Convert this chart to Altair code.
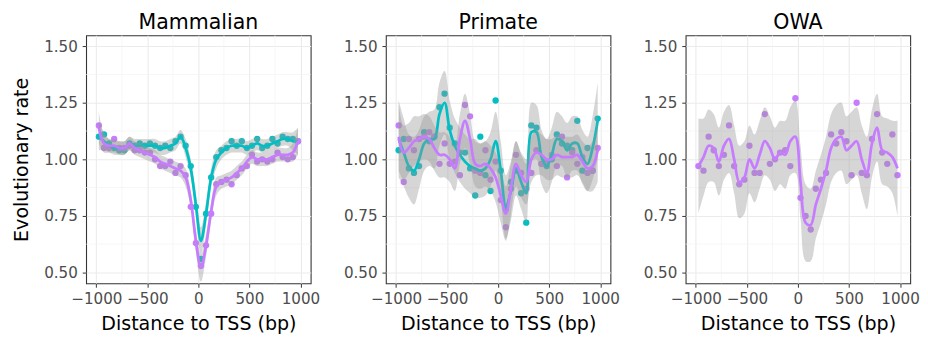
import altair as alt
import pandas as pd

# x positions (bin centres, bp)
X = [-975, -925, -875, -825, -775, -725, -675, -625, -575, -525,
     -475, -425, -375, -325, -275, -225, -175, -125, -75, -25,
     25, 75, 125, 175, 225, 275, 325, 375, 425, 475,
     525, 575, 625, 675, 725, 775, 825, 875, 925, 975]

PANELS = ["Mammalian", "Primate", "OWA"]
GROUPS = ["teal", "purple"]
COLORS = ["#00BFC4", "#C77CFF"]

# ---- Mammalian ----
mam_teal_pts = [1.10, 1.11, 1.07, 1.05, 1.04, 1.04, 1.07, 1.06, 1.07, 1.06,
                1.07, 1.06, 1.05, 1.06, 1.05, 1.08, 1.10, 1.06, 0.97, 0.79,
                0.56, 0.76, 0.92, 1.01, 1.04, 1.05, 1.08, 1.06, 1.08, 1.05,
                1.06, 1.09, 1.05, 1.06, 1.09, 1.07, 1.10, 1.09, 1.09, 1.08]
mam_teal_fit = [1.10, 1.08, 1.06, 1.05, 1.05, 1.05, 1.07, 1.06, 1.06, 1.06,
                1.06, 1.06, 1.05, 1.05, 1.06, 1.07, 1.10, 1.05, 0.96, 0.80,
                0.64, 0.76, 0.92, 1.00, 1.03, 1.05, 1.06, 1.06, 1.06, 1.05,
                1.06, 1.07, 1.06, 1.06, 1.07, 1.08, 1.09, 1.09, 1.08, 1.08]
mam_teal_se = [0.06, 0.04, 0.03, 0.03, 0.03, 0.03, 0.03, 0.03, 0.03, 0.03,
               0.03, 0.03, 0.03, 0.03, 0.03, 0.03, 0.03, 0.04, 0.04, 0.05,
               0.06, 0.05, 0.04, 0.04, 0.03, 0.03, 0.03, 0.03, 0.03, 0.03,
               0.03, 0.03, 0.03, 0.03, 0.03, 0.03, 0.03, 0.03, 0.04, 0.06]
mam_purple_pts = [1.15, 1.05, 1.05, 1.09, 1.05, 1.05, 1.06, 1.04, 1.04, 1.03,
                  1.03, 1.00, 0.97, 0.97, 0.99, 0.94, 0.97, 0.93, 0.79, 0.63,
                  0.53, 0.62, 0.76, 0.89, 0.90, 0.91, 0.89, 0.93, 0.96, 0.97,
                  1.02, 0.99, 1.00, 0.99, 1.00, 1.03, 1.01, 1.00, 1.01, 1.08]
mam_purple_fit = [1.14, 1.07, 1.06, 1.06, 1.05, 1.05, 1.07, 1.05, 1.04, 1.03,
                  1.02, 1.01, 0.99, 0.98, 0.97, 0.96, 0.95, 0.92, 0.82, 0.64,
                  0.52, 0.62, 0.77, 0.88, 0.90, 0.91, 0.92, 0.94, 0.96, 0.99,
                  1.01, 1.00, 1.00, 1.00, 1.01, 1.02, 1.02, 1.02, 1.03, 1.08]
mam_purple_se = [0.07, 0.04, 0.03, 0.03, 0.03, 0.03, 0.03, 0.03, 0.03, 0.03,
                 0.03, 0.03, 0.03, 0.03, 0.03, 0.03, 0.03, 0.04, 0.04, 0.05,
                 0.06, 0.05, 0.04, 0.04, 0.03, 0.03, 0.03, 0.03, 0.03, 0.03,
                 0.03, 0.03, 0.03, 0.03, 0.03, 0.03, 0.03, 0.03, 0.04, 0.06]

# ---- Primate ----
pri_teal_pts = [1.04, 1.09, 0.96, 0.94, 0.97, 1.12, 1.08, 1.10, 1.23, 1.29,
                1.14, 1.07, 1.03, 1.03, 0.96, 0.84, 1.10, 0.93, 0.86, 1.26,
                0.95, 0.78, 0.90, 0.95, 0.85, 0.72, 1.15, 1.14, 0.98, 0.97,
                1.00, 1.11, 1.07, 1.06, 1.04, 1.17, 0.95, 1.05, 0.95, 1.18]
pri_teal_fit = [1.09, 1.03, 0.97, 0.95, 1.00, 1.07, 1.09, 1.09, 1.20, 1.25,
                1.13, 1.06, 1.02, 0.99, 0.97, 0.96, 0.95, 0.96, 1.00, 1.08,
                0.95, 0.79, 0.86, 0.96, 0.90, 0.85, 1.12, 1.12, 1.01, 0.97,
                1.02, 1.09, 1.08, 1.04, 1.07, 1.07, 1.01, 0.98, 1.05, 1.17]
pri_teal_se = [0.17, 0.15, 0.14, 0.15, 0.13, 0.12, 0.12, 0.13, 0.14, 0.14,
               0.13, 0.12, 0.12, 0.12, 0.12, 0.13, 0.12, 0.12, 0.12, 0.13,
               0.13, 0.14, 0.13, 0.12, 0.12, 0.13, 0.13, 0.12, 0.12, 0.12,
               0.12, 0.12, 0.11, 0.12, 0.12, 0.12, 0.12, 0.12, 0.14, 0.17]
pri_purple_pts = [1.15, 0.90, 1.09, 1.04, 1.09, 1.10, 1.12, 1.10, 0.98, 1.07,
                  0.98, 0.99, 0.93, 1.24, 1.19, 0.95, 0.94, 1.04, 0.91, 0.99,
                  0.82, 0.70, 0.87, 1.02, 0.94, 0.87, 0.94, 1.04, 0.98, 0.99,
                  1.02, 0.97, 1.10, 0.92, 1.03, 0.98, 1.01, 0.94, 0.95, 1.05]
pri_purple_fit = [1.10, 1.03, 1.05, 1.08, 1.09, 1.10, 1.09, 1.05, 1.02, 1.02,
                  1.00, 0.96, 1.09, 1.17, 1.09, 0.98, 0.97, 0.98, 0.96, 0.92,
                  0.84, 0.76, 0.87, 0.98, 0.93, 0.90, 1.00, 1.03, 1.02, 1.00,
                  1.00, 1.02, 1.01, 1.01, 1.01, 1.02, 0.99, 0.96, 0.97, 1.04]
pri_purple_se = [0.15, 0.12, 0.11, 0.11, 0.10, 0.10, 0.10, 0.10, 0.10, 0.10,
                 0.10, 0.10, 0.11, 0.12, 0.11, 0.10, 0.10, 0.10, 0.10, 0.11,
                 0.12, 0.12, 0.11, 0.10, 0.10, 0.10, 0.10, 0.10, 0.09, 0.09,
                 0.09, 0.09, 0.09, 0.09, 0.09, 0.09, 0.09, 0.10, 0.11, 0.14]

# ---- OWA ----
owa_purple_pts = [0.97, 0.95, 1.10, 1.04, 0.97, 1.02, 1.15, 0.97, 0.89, 0.91,
                  1.06, 0.94, 0.94, 1.20, 0.98, 1.00, 1.03, 1.04, 0.97, 1.27,
                  0.83, 0.75, 0.69, 0.87, 0.91, 0.94, 1.11, 1.07, 1.12, 1.08,
                  0.93, 1.25, 0.94, 0.93, 1.09, 1.20, 1.03, 0.98, 1.11, 0.93]
owa_purple_fit = [0.97, 1.01, 1.06, 1.05, 0.99, 1.06, 1.09, 1.00, 0.90, 0.92,
                  1.00, 0.96, 1.02, 1.08, 1.05, 1.00, 1.03, 1.02, 1.08, 1.10,
                  0.90, 0.72, 0.71, 0.80, 0.87, 0.95, 1.05, 1.09, 1.10, 1.04,
                  1.06, 1.08, 1.00, 0.94, 1.07, 1.14, 1.04, 1.03, 1.01, 0.96]
owa_purple_se = [0.21, 0.17, 0.16, 0.15, 0.15, 0.15, 0.15, 0.15, 0.16, 0.16,
                 0.15, 0.15, 0.15, 0.15, 0.14, 0.14, 0.14, 0.15, 0.15, 0.16,
                 0.16, 0.17, 0.16, 0.15, 0.15, 0.15, 0.15, 0.15, 0.15, 0.15,
                 0.15, 0.15, 0.15, 0.16, 0.15, 0.15, 0.15, 0.15, 0.16, 0.21]

SERIES = [
    ("Mammalian", "teal", mam_teal_pts, mam_teal_fit, mam_teal_se),
    ("Mammalian", "purple", mam_purple_pts, mam_purple_fit, mam_purple_se),
    ("Primate", "teal", pri_teal_pts, pri_teal_fit, pri_teal_se),
    ("Primate", "purple", pri_purple_pts, pri_purple_fit, pri_purple_se),
    ("OWA", "purple", owa_purple_pts, owa_purple_fit, owa_purple_se),
]

rows = []
for panel, grp, pts, fit, se in SERIES:
    for x, p, f, s in zip(X, pts, fit, se):
        rows.append({"panel": panel, "group": grp, "x": x, "y": p,
                     "fit": f, "lo": f - s, "hi": f + s})
df = pd.DataFrame(rows)

X_TICKS = [-1000, -500, 0, 500, 1000]
Y_TICKS = [0.5, 0.75, 1.0, 1.25, 1.5]
X_MINOR = [-750, -250, 250, 750]
Y_MINOR = [0.625, 0.875, 1.125, 1.375]

xscale = alt.Scale(domain=[-1100, 1100], nice=False, zero=False)
yscale = alt.Scale(domain=[0.452, 1.548], nice=False, zero=False)

FONT = "DejaVu Sans"
INTERP = "catmull-rom"


def make_panel(name, first):
    xaxis = alt.Axis(values=X_TICKS, title="Distance to TSS (bp)", format="d")
    if first:
        yaxis = alt.Axis(values=Y_TICKS, format=".2f", title="Evolutionary rate")
    else:
        yaxis = alt.Axis(values=Y_TICKS, format=".2f", title=None)

    d = df[df["panel"] == name]
    groups = [g for g in GROUPS if g in set(d["group"])]

    gx = alt.Chart(pd.DataFrame({"v": X_MINOR})).mark_rule(
        color="#F3F3F3", strokeWidth=0.7
    ).encode(x=alt.X("v:Q", scale=xscale, axis=xaxis))
    gy = alt.Chart(pd.DataFrame({"v": Y_MINOR})).mark_rule(
        color="#F3F3F3", strokeWidth=0.7
    ).encode(y=alt.Y("v:Q", scale=yscale, axis=yaxis))

    pts = alt.Chart(d).mark_circle(size=42, opacity=1).encode(
        x=alt.X("x:Q", scale=xscale, axis=xaxis),
        y=alt.Y("y:Q", scale=yscale, axis=yaxis),
        color=alt.Color("group:N", scale=alt.Scale(domain=GROUPS, range=COLORS),
                        legend=None),
    )
    layers = [gx, gy, pts]
    for g in groups:
        col = COLORS[GROUPS.index(g)]
        dg = d[d["group"] == g]
        band = alt.Chart(dg).mark_area(
            color="#999999", opacity=0.4, interpolate=INTERP
        ).encode(
            x=alt.X("x:Q", scale=xscale, axis=xaxis),
            y=alt.Y("lo:Q", scale=yscale, axis=yaxis),
            y2="hi:Q",
        )
        line = alt.Chart(dg).mark_line(
            color=col, strokeWidth=2.8, interpolate=INTERP
        ).encode(
            x=alt.X("x:Q", scale=xscale, axis=xaxis),
            y=alt.Y("fit:Q", scale=yscale, axis=yaxis),
        )
        layers += [band, line]

    return alt.layer(*layers).properties(
        width=230, height=254,
        title=alt.TitleParams(name, fontSize=21, font=FONT, fontWeight="normal",
                              color="black", anchor="middle", offset=2),
    )


chart = alt.hconcat(
    make_panel("Mammalian", True),
    make_panel("Primate", False),
    make_panel("OWA", False),
    spacing=22,
).properties(
    padding={"left": 2, "top": 0, "right": 0, "bottom": 0}
).configure_view(
    stroke="#333333", strokeWidth=1.1
).configure_axis(
    domain=False,
    tickColor="#333333", tickSize=4, tickWidth=1,
    labelColor="#4D4D4D", labelFontSize=15.5, labelFont=FONT, labelPadding=5,
    titleFont=FONT, titleFontSize=19.5, titleFontWeight="normal", titleColor="black",
    gridColor="#EBEBEB", gridWidth=1.1,
).configure_axisLeft(
    titlePadding=13
).configure_axisBottom(
    titlePadding=8
)

chart.save("out.html", embed_options={"renderer": "svg", "actions": False})
